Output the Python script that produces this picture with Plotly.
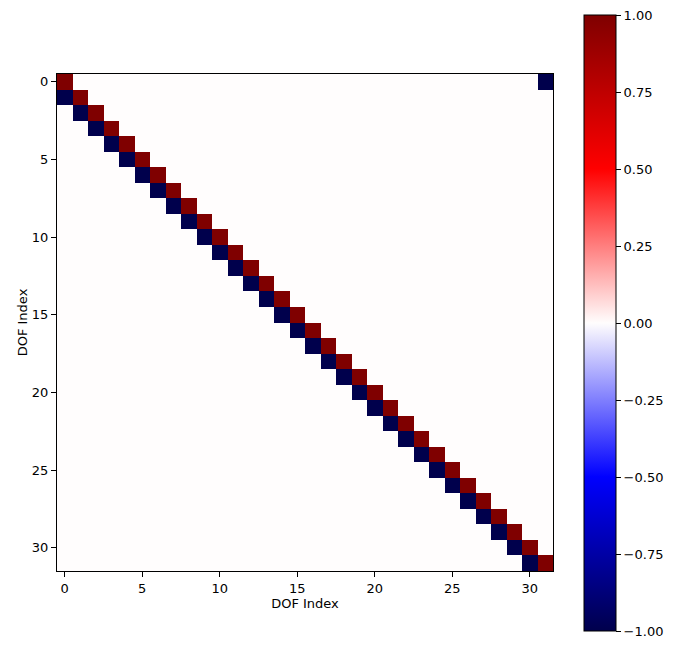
import numpy as np
import plotly.graph_objects as go

n = 32
diag_values = [1.0] * n
subdiag_values = [-1.0] * (n - 1)
corner_value = -1.0
tick_vals = [0, 5, 10, 15, 20, 25, 30]
cbar_vals = [-1.0, -0.75, -0.5, -0.25, 0.0, 0.25, 0.5, 0.75, 1.0]
cbar_text = [("%.2f" % v).replace("-", "\u2212") for v in cbar_vals]

z = np.zeros((n, n))
for i, v in enumerate(diag_values):
    z[i, i] = v
for i, v in enumerate(subdiag_values):
    z[i + 1, i] = v
z[0, n - 1] = corner_value

seismic = [
    [0.0, "rgb(0,0,76)"],
    [0.25, "rgb(0,0,255)"],
    [0.5, "rgb(255,253,253)"],
    [0.75, "rgb(255,0,0)"],
    [1.0, "rgb(127,0,0)"],
]

L, R, T, B = 57, 553, 74, 571
W, H = 676, 649
font13 = dict(family="DejaVu Sans", size=13, color="black")

fig = go.Figure(go.Heatmap(
    z=z, x=list(range(n)), y=list(range(n)),
    colorscale=seismic, zmin=-1, zmax=1,
    colorbar=dict(
        x=(584 - L) / (R - L), xanchor="left", xpad=0,
        y=(B - 323) / (B - T), yanchor="middle", ypad=0,
        len=616, lenmode="pixels", thickness=32, thicknessmode="pixels",
        outlinewidth=1, outlinecolor="black",
        tickmode="array", tickvals=cbar_vals, ticktext=cbar_text,
        ticks="outside", ticklen=5, tickcolor="black",
        tickfont=font13,
    ),
    showscale=True,
))

axis_common = dict(
    showgrid=False, zeroline=False, showline=True, linecolor="black", linewidth=1,
    mirror=True, ticks="outside", ticklen=5, tickcolor="black",
    tickfont=font13, automargin=False,
    tickmode="array", tickvals=tick_vals,
)

fig.update_layout(
    width=W, height=H,
    margin=dict(l=L, r=W - R, t=T, b=H - B, autoexpand=False),
    paper_bgcolor="white", plot_bgcolor="white",
    font=font13,
    xaxis=dict(range=[-0.5, n - 0.5], title=dict(text="DOF Index", standoff=4, font=font13), **axis_common),
    yaxis=dict(range=[n - 0.5, -0.5], title=dict(text="DOF Index", standoff=1, font=font13), **axis_common),
)

fig.write_html("out.html")
